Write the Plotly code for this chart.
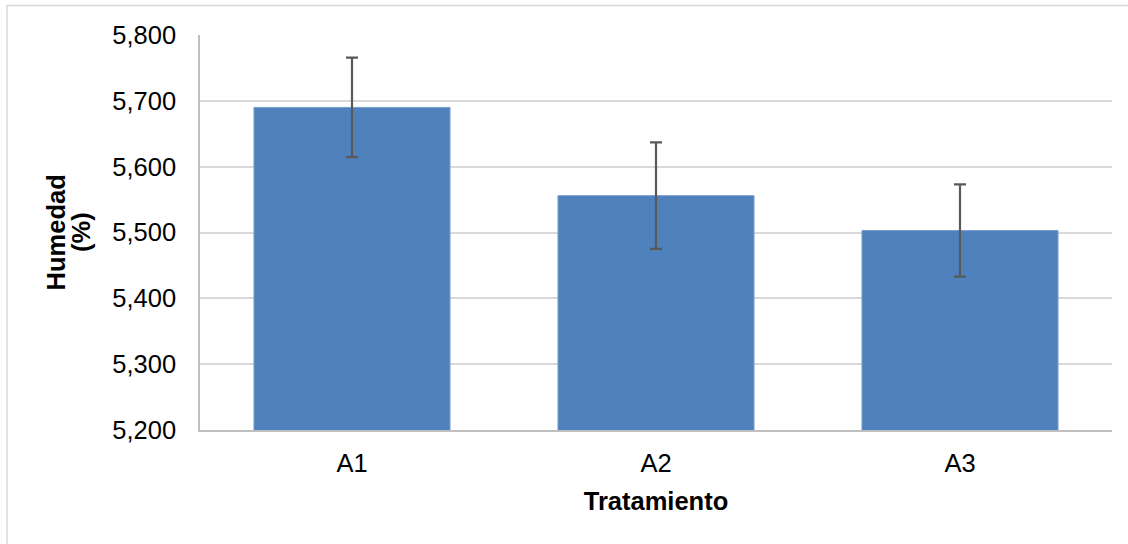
import plotly.graph_objects as go

categories = ["A1", "A2", "A3"]
humedad = [5690, 5556, 5503]
error = [75.5, 81, 70]
y_ticks = [5200, 5300, 5400, 5500, 5600, 5700, 5800]
y_tick_labels = ["5,200", "5,300", "5,400", "5,500", "5,600", "5,700", "5,800"]
y_title_lines = ["<b>Humedad</b>", "<b>(%)</b>"]

fig = go.Figure()
fig.add_trace(go.Bar(
    x=categories,
    y=humedad,
    marker=dict(color="#4f81bd", line=dict(color="#7b9fcf", width=1)),
    error_y=dict(type="data", array=error, visible=True, color="#595959",
                 thickness=2.2, width=6),
))

font_family = "Liberation Sans, Arial, sans-serif"

fig.update_layout(
    width=1128, height=544,
    margin=dict(l=200, r=16, t=35, b=114),
    paper_bgcolor="white", plot_bgcolor="white",
    bargap=0.355,
    showlegend=False,
    font=dict(family=font_family, color="#000000"),
    xaxis=dict(
        showgrid=False,
        showline=True, linecolor="#bfbfbf", linewidth=1.5,
        ticks="outside", ticklen=10, tickcolor="rgba(0,0,0,0)",
        tickfont=dict(size=25.5, family=font_family, color="#000000"),
        title=dict(text="<b>Tratamiento</b>", font=dict(size=25.5, family=font_family),
                   standoff=16),
    ),
    yaxis=dict(
        range=[5200, 5800],
        tickvals=y_ticks, ticktext=y_tick_labels,
        showgrid=True, gridcolor="#d9d9d9", gridwidth=1.5,
        showline=True, linecolor="#bfbfbf", linewidth=1.5,
        ticks="outside", ticklen=17, tickcolor="rgba(0,0,0,0)",
        tickfont=dict(size=25.5, family=font_family, color="#000000"),
        zeroline=False,
    ),
    annotations=[
        dict(text=y_title_lines[0], xref="paper", yref="paper", x=-0.158, y=0.5,
             xanchor="center", yanchor="middle", textangle=-90, showarrow=False,
             font=dict(size=25.5, family=font_family, color="#000000")),
        dict(text=y_title_lines[1], xref="paper", yref="paper", x=-0.131, y=0.5,
             xanchor="center", yanchor="middle", textangle=-90, showarrow=False,
             font=dict(size=25.5, family=font_family, color="#000000")),
    ],
    shapes=[dict(type="rect", xref="paper", yref="paper",
                 x0=-0.2116, x1=1.03, y0=-0.31, y1=1.0747,
                 line=dict(color="#d9d9d9", width=1.5), layer="below")],
)

fig.write_html("out.html", config={"displayModeBar": False},
               post_script="document.body.style.margin='0';document.body.style.overflow='hidden';")
